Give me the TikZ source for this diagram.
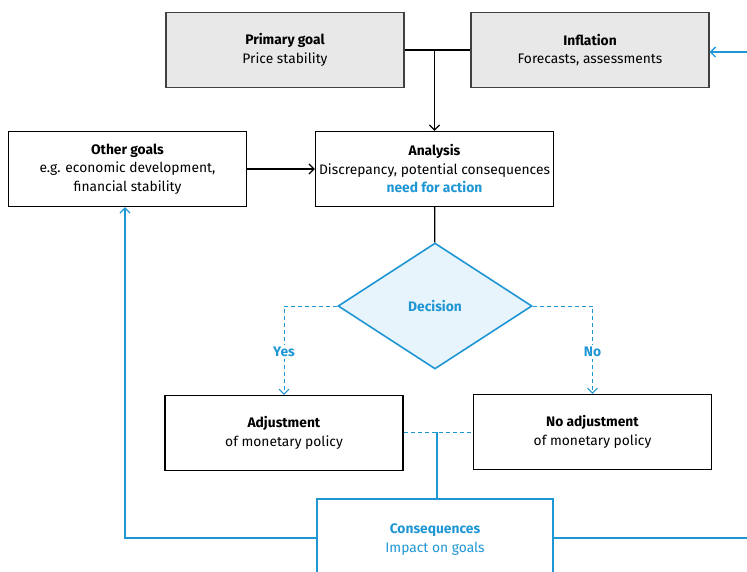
\documentclass[tikz,border=0pt]{standalone}
\usepackage{fontspec}
\setmainfont{Fira Sans}
\usetikzlibrary{arrows.meta,shapes.geometric}
\definecolor{bbblue}{RGB}{30,150,212}
\definecolor{boxgray}{RGB}{232,232,232}

\begin{document}
\begin{tikzpicture}[x=1pt,y=-1pt,>={Straight Barb[length=5pt,width=10pt]},semithick,
  box/.style={rectangle,draw,line width=1.3pt,minimum width=238pt,minimum height=75pt,align=center,font=\fontsize{13.8}{18.5}\selectfont,inner sep=2pt},
  grey box/.style={box,fill=boxgray,draw=black!75},
  blue link/.style={draw=bbblue,line width=1.3pt},
  dash link/.style={blue link,dash pattern=on 4pt off 3pt,line width=1pt}]
  \useasboundingbox (0,0) rectangle (747,571);
  \clip (0,0) rectangle (747,571);

  \node[grey box] (primary) at (285,50) {\textbf{Primary goal}\\Price stability};
  \node[grey box] (inflation) at (590,50) {\textbf{Inflation}\\Forecasts, assessments};
  \node[box] (other) at (127.5,169) {\textbf{Other goals}\\e.g. economic development,\\financial stability};
  \node[box] (analysis) at (434.5,169) {\textbf{Analysis}\\Discrepancy, potential consequences\\\textcolor{bbblue}{\textbf{need for action}}};
  \node[diamond,draw=bbblue,fill=bbblue!10,line width=1.6pt,minimum width=194pt,minimum height=126pt,inner sep=0pt,text=bbblue,font=\fontsize{13.8}{18}\selectfont\bfseries] (decision) at (435,306) {Decision};
  \node[box] (adjust) at (284,433) {\textbf{Adjustment}\\of monetary policy};
  \node[box] (noadjust) at (592.5,432) {\textbf{No adjustment}\\of monetary policy};
  \node[box,draw=bbblue,line width=2.4pt,text=bbblue,minimum width=236pt,minimum height=84pt] (conseq) at (435,541) {\textbf{Consequences}\\Impact on goals\\[-12.5pt]};

  \coordinate (join) at (primary.east -| analysis.north);
  \coordinate (merge) at (437,432);
  \coordinate (rimlow) at (752,538);
  \coordinate (rimtop) at (752,52);

  % goals and forecasts into the analysis
  \draw[line width=1.3pt] (primary) -- (inflation);
  \draw[->,line width=1.3pt] (join) -- (analysis);
  \draw[->,line width=1.3pt] (other) -- (analysis);
  \draw[line width=1.3pt] (analysis) -- (decision);

  % decision branches
  \path[dash link,->] (decision.west) -| node[pos=0.76,fill=white,text=bbblue,font=\fontsize{13.8}{16}\selectfont\bfseries,inner sep=2pt] {Yes} (adjust.north);
  \path[dash link,->] (decision.east) -| node[pos=0.76,fill=white,text=bbblue,font=\fontsize{13.8}{16}\selectfont\bfseries,inner sep=2pt] {No} (noadjust.north);
  \path[dash link] (adjust.east |- merge) -- (noadjust.west |- merge);
  \path[blue link] (merge) -- (conseq.north -| merge);

  % feedback
  \path[blue link,->] (conseq.west |- rimlow) -| (other.south -| 125,0);
  \path[blue link] (conseq.east |- rimlow) -- (rimlow) -- (rimtop);
  \path[blue link,->] (rimtop) -- (inflation.east |- rimtop);
\end{tikzpicture}
\end{document}
